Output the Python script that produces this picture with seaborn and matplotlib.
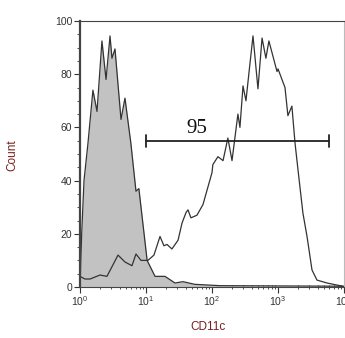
import numpy as np
import matplotlib
matplotlib.use("Agg")
import matplotlib.pyplot as plt
import seaborn as sns
from matplotlib.ticker import LogLocator, NullFormatter, MultipleLocator

sns.set_style("ticks")
plt.rcParams['font.family'] = ['Liberation Sans', 'DejaVu Sans']

# 对照组（灰色填充）
ctrl_x = [1.0, 1.06, 1.15, 1.32, 1.57, 1.81, 2.15, 2.48, 2.85, 3.05, 3.39, 4.18, 4.8,
          5.9, 7.05, 7.8, 10.4, 13.7, 19.4, 27.5, 36.3, 55, 132, 8700, 10000]
ctrl_y = [0, 20, 40, 54, 74, 66, 92.5, 78, 94.4, 86, 89.5, 63, 71,
          54, 36, 37, 10, 4, 4, 1.5, 2, 1, 0.5, 0.3, 0]

# CD11c 染色组（空心曲线）
cd_x = [1.0, 1.19, 1.42, 2.01, 2.56, 3.77, 4.8, 6.13, 7.05, 8.4, 10.7, 13.2, 16.3,
        18.7, 20.8, 24.7, 30.6, 35.1, 40.4, 43.3, 47.9, 59.2, 73, 100, 103, 123,
        147, 174, 201, 247, 265, 295, 327, 363, 418, 497, 573, 656, 728, 966,
        1000, 1276, 1413, 1624, 1813, 2010, 2388, 2753, 3274, 3894, 5526, 8700, 10000]
cd_y = [4, 3, 3, 4.5, 4, 12, 9.4, 8, 12.4, 10, 10, 12, 19,
        15.5, 16, 14.3, 17.6, 24, 28, 29, 26, 27, 31, 43, 46, 49,
        47.5, 56, 47.5, 65, 60, 75.6, 70, 80.5, 94.4, 74.5, 93.6, 86, 92.5, 81,
        82, 75, 64.4, 68, 54, 44, 27.7, 19, 6.4, 2.6, 1.5, 0.5, 0.3]

gate_lo, gate_hi, gate_y = 10, 5900, 55
gate_label = "95"

fig = plt.figure(figsize=(3.45, 3.38), dpi=100)
ax = fig.add_axes([80 / 345, 1 - 287 / 338, 264 / 345, 266 / 338])

ax.fill_between(ctrl_x, ctrl_y, color="#c2c2c2", linewidth=0)
sns.lineplot(x=ctrl_x, y=ctrl_y, ax=ax, color="#333333", linewidth=0.9, sort=False)
sns.lineplot(x=cd_x, y=cd_y, ax=ax, color="#333333", linewidth=0.9, sort=False)

# 门控线
ax.plot([gate_lo, gate_hi], [gate_y, gate_y], color="#222222", linewidth=1.3)
ax.plot([gate_lo, gate_lo], [gate_y - 2.2, gate_y + 2.2], color="#222222", linewidth=1.3)
ax.plot([gate_hi, gate_hi], [gate_y - 2.2, gate_y + 2.2], color="#222222", linewidth=1.3)
ax.text(59, gate_y + 1.0, gate_label, ha="center", va="bottom",
        fontsize=15, family="Liberation Serif", color="#111111")

ax.set_xscale("log")
ax.set_xlim(1, 10000)
ax.set_ylim(0, 100)
ax.xaxis.set_major_locator(LogLocator(base=10, numticks=10))
ax.xaxis.set_minor_locator(LogLocator(base=10, subs=np.arange(2, 10), numticks=20))
ax.xaxis.set_minor_formatter(NullFormatter())
ax.yaxis.set_major_locator(MultipleLocator(20))
ax.yaxis.set_minor_locator(MultipleLocator(5))

ax.tick_params(axis="both", which="major", direction="out", length=4, width=0.8,
               labelsize=7.5, colors="#333333", pad=1.5)
ax.tick_params(axis="x", which="minor", direction="inout", length=3, width=0.6, colors="#333333")
ax.tick_params(axis="y", which="minor", direction="out", length=2, width=0.6, colors="#333333")

for s in ax.spines.values():
    s.set_color("#444444")
    s.set_linewidth(0.8)
ax.spines["left"].set_linewidth(1.6)
ax.spines["right"].set_color("#bbbbbb")

fig.text(12 / 345, 1 - 155 / 338, "Count", rotation=90, ha="center", va="center",
         fontsize=8.5, color="#7a1f1f")
fig.text(208 / 345, 1 - 327 / 338, "CD11c", ha="center", va="center",
         fontsize=8.5, color="#7a1f1f")

fig.savefig("out.png", dpi=100)
